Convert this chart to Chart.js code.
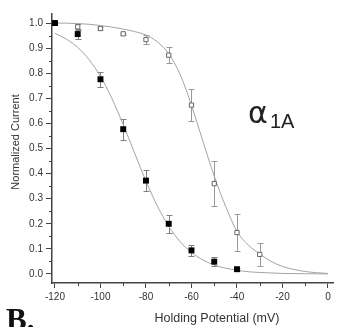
<!DOCTYPE html>
<html><head><meta charset="utf-8">
<script src="https://cdn.jsdelivr.net/npm/chart.js@4/dist/chart.umd.min.js"></script>
<style>html,body{margin:0;padding:0;background:#fff;overflow:hidden}canvas{display:block}</style>
</head><body>
<canvas id="c" width="345" height="327"></canvas>
<script>
// ---- data ----
const xTicks = [-120, -100, -80, -60, -40, -20, 0];
const xMinorTicks = [-110, -90, -70, -50, -30, -10];
const yTicks = [0.0, 0.1, 0.2, 0.3, 0.4, 0.5, 0.6, 0.7, 0.8, 0.9, 1.0];
const yMinorTicks = [0.05, 0.15, 0.25, 0.35, 0.45, 0.55, 0.65, 0.75, 0.85, 0.95];

const closedV   = [-120, -110, -100, -90, -80, -70, -60, -50, -40];
const closedI   = [1.0, 0.956, 0.776, 0.577, 0.372, 0.200, 0.094, 0.049, 0.019];
const closedErr = [0, 0.018, 0.030, 0.042, 0.042, 0.035, 0.021, 0.017, 0.006];

const openV   = [-120, -110, -100, -90, -80, -70, -60, -50, -40, -30];
const openI   = [1.0, 0.985, 0.978, 0.957, 0.934, 0.872, 0.673, 0.360, 0.165, 0.078];
const openErr = [0, 0.010, 0.005, 0.004, 0.017, 0.031, 0.065, 0.090, 0.074, 0.047];

const fitV = [-120, -115, -110, -105, -100, -95, -90, -85, -80, -75, -70, -65, -60, -55, -50, -45, -40, -35, -30, -25, -20, -15, -10, -5, 0];
const closedFitI = [0.959, 0.936, 0.903, 0.854, 0.787, 0.700, 0.595, 0.482, 0.370, 0.271, 0.190, 0.129, 0.086, 0.056, 0.036, 0.023, 0.015, 0.009, 0.006, 0.004, 0.002, 0.0015, 0.001, 0.0006, 0.0004];
const openFitI   = [1.0, 0.9995, 0.998, 0.995, 0.990, 0.984, 0.976, 0.966, 0.952, 0.925, 0.878, 0.795, 0.672, 0.530, 0.390, 0.270, 0.170, 0.115, 0.080, 0.050, 0.030, 0.018, 0.010, 0.005, 0.002];

const xTitle = 'Holding Potential (mV)';
const yTitle = 'Normalized Current';
const panelLabel = 'B.';
const channelGreek = 'α';
const channelSub = '1A';

const pts = (xs, ys) => xs.map((x, i) => ({x: x, y: ys[i]}));
const FONT = "'Liberation Sans', Arial, sans-serif";

const errorBars = {
  id: 'errorBars',
  beforeDatasetsDraw(chart) {
    const ctx = chart.ctx, xs = chart.scales.x, ys = chart.scales.y;
    const sets = [[openV, openI, openErr, '#999'], [closedV, closedI, closedErr, '#808080']];
    ctx.save();
    ctx.lineWidth = 1;
    sets.forEach(([V, I, E, col]) => {
      ctx.strokeStyle = col;
      V.forEach((v, i) => {
        if (!E[i]) return;
        const px = Math.round(xs.getPixelForValue(v)) + 0.5;
        const t = Math.round(ys.getPixelForValue(I[i] + E[i])) + 0.5;
        const b = Math.round(ys.getPixelForValue(I[i] - E[i])) + 0.5;
        ctx.beginPath();
        ctx.moveTo(px, t); ctx.lineTo(px, b);
        ctx.moveTo(px - 3, t); ctx.lineTo(px + 3, t);
        ctx.moveTo(px - 3, b); ctx.lineTo(px + 3, b);
        ctx.stroke();
      });
    });
    ctx.restore();
  }
};

const extras = {
  id: 'extras',
  afterDraw(chart) {
    const ctx = chart.ctx, xs = chart.scales.x, ys = chart.scales.y;
    const a = chart.chartArea;
    ctx.save();
    // minor ticks
    ctx.strokeStyle = '#444'; ctx.lineWidth = 1;
    ctx.beginPath();
    xMinorTicks.forEach(v => {
      const px = Math.round(xs.getPixelForValue(v)) + 0.5;
      ctx.moveTo(px, a.bottom); ctx.lineTo(px, a.bottom + 3);
    });
    yMinorTicks.forEach(v => {
      const py = Math.round(ys.getPixelForValue(v)) + 0.5;
      ctx.moveTo(a.left, py); ctx.lineTo(a.left - 3, py);
    });
    ctx.stroke();
    // axis titles
    ctx.fillStyle = '#333';
    ctx.textAlign = 'center'; ctx.textBaseline = 'middle';
    ctx.font = '12.5px ' + FONT;
    ctx.fillText(xTitle, 217, 319);
    ctx.save();
    ctx.translate(16, 142); ctx.rotate(-Math.PI / 2);
    ctx.font = '11px ' + FONT;
    ctx.fillText(yTitle, 0, 0);
    ctx.restore();
    // channel label
    ctx.fillStyle = '#222';
    ctx.textAlign = 'left'; ctx.textBaseline = 'alphabetic';
    ctx.font = "30px 'DejaVu Sans', sans-serif";
    ctx.fillText(channelGreek, 248, 123);
    ctx.font = '20px ' + FONT;
    ctx.fillText(channelSub, 270, 128);
    // panel label
    ctx.fillStyle = '#111';
    ctx.font = "bold 31px 'Liberation Serif', 'Times New Roman', serif";
    ctx.fillText(panelLabel, 6, 330);
    ctx.restore();
  }
};

new Chart(document.getElementById('c'), {
  type: 'scatter',
  data: {
    datasets: [
      { label: 'closed', data: pts(closedV, closedI), pointStyle: 'rect', pointRadius: 4.2,
        backgroundColor: '#000', borderColor: '#000', borderWidth: 0, showLine: false, clip: false },
      { label: 'open', data: pts(openV, openI), pointStyle: 'rect', pointRadius: 3,
        backgroundColor: '#fff', borderColor: '#666', borderWidth: 1, showLine: false, clip: false },
      { label: 'closedFit', data: pts(fitV, closedFitI), showLine: true, pointRadius: 0,
        borderColor: '#a3a3a3', borderWidth: 1, cubicInterpolationMode: 'monotone', fill: false },
      { label: 'openFit', data: pts(fitV, openFitI), showLine: true, pointRadius: 0,
        borderColor: '#a3a3a3', borderWidth: 1, cubicInterpolationMode: 'monotone', fill: false }
    ]
  },
  options: {
    responsive: false,
    animation: false,
    events: [],
    layout: { padding: { left: 0, top: 14, right: 12, bottom: 0 } },
    plugins: { legend: { display: false }, tooltip: { enabled: false } },
    scales: {
      x: {
        type: 'linear', min: -121.3, max: 2.2,
        afterBuildTicks: s => { s.ticks = xTicks.map(v => ({value: v})); },
        afterFit: s => { s.height = 44; },
        ticks: { callback: v => String(v), font: { size: 10, family: FONT }, color: '#333', padding: 3, maxRotation: 0, autoSkip: false },
        grid: { drawOnChartArea: false, drawTicks: true, tickLength: 5, color: '#444', lineWidth: 1 },
        border: { display: true, color: '#444', width: 1.5 }
      },
      y: {
        type: 'linear', min: -0.036, max: 1.036,
        afterBuildTicks: s => { s.ticks = yTicks.map(v => ({value: v})); },
        afterFit: s => { s.width = 52; },
        ticks: { callback: v => v.toFixed(1), font: { size: 10, family: FONT }, color: '#333', padding: 3, autoSkip: false },
        grid: { drawOnChartArea: false, drawTicks: true, tickLength: 6, color: '#444', lineWidth: 1 },
        border: { display: true, color: '#444', width: 1.5 }
      }
    }
  },
  plugins: [errorBars, extras]
});
</script>
</body></html>
